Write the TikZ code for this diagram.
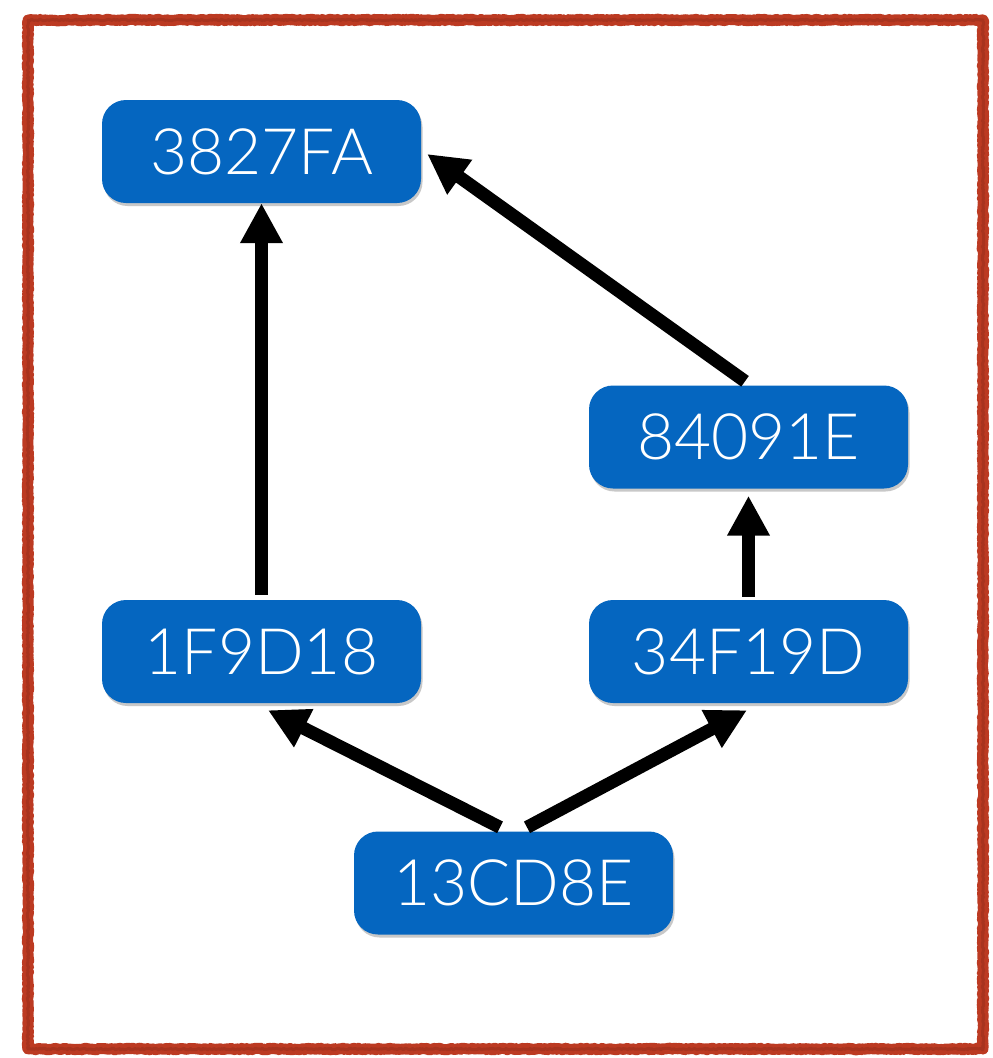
\documentclass[tikz,border=0pt]{standalone}
\usepackage{fontspec}
\setmainfont{Lato}[UprightFont=* Light]
\usetikzlibrary{arrows.meta,shadows,calc,decorations.pathmorphing}
\definecolor{nodeblue}{RGB}{5,102,192}
\definecolor{frame}{RGB}{188,58,34}
\tikzset{
  commit/.style={draw=none, fill=nodeblue, text=white, rounded corners=24pt,
    minimum width=319pt, minimum height=103pt, inner sep=0pt,
    font=\fontsize{64}{76}\selectfont,
    drop shadow={shadow xshift=1.5pt, shadow yshift=-3pt, opacity=0.3, fill=black!70}},
  link/.style={line width=13pt, -{Triangle[width=40pt,length=40pt]}}
}
\begin{document}
\begin{tikzpicture}[x=1pt,y=-1pt]
\useasboundingbox (0,0) rectangle (993,1058);
\fill[white] (0,0) rectangle (993,1058);
\draw[frame, line width=11pt, line join=round,
  decorate, decoration={random steps, segment length=1.5pt, amplitude=0.8pt}]
  (28,20) rectangle (983,1049);
\draw[frame!80!black, line width=3pt, opacity=0.5, line join=round,
  decorate, decoration={random steps, segment length=1.5pt, amplitude=0.8pt}]
  (28,20) rectangle (983,1049);

\node[commit] (a) at (261.5,151.5) {3827FA};
\node[commit] (b) at (748.5,437) {84091E};
\node[commit] (c) at (748.5,651.5) {34F19D};
\node[commit] (d) at (261.5,651.5) {1F9D18};
\node[commit] (e) at (513.5,883) {13CD8E};

\coordinate (bs) at ($(b.north)+(-3.5,-4)$);
\coordinate (at) at ($(a.east)+(6,2.5)$);
\coordinate (els) at ($(e.north)+(-13.5,-4)$);
\coordinate (ers) at ($(e.north)+(13.5,-4)$);
\coordinate (dt) at ($(d.south)+(6.5,7)$);
\coordinate (ct) at ($(c.south)+(-1.5,7)$);

\draw[link] ($(d.north)+(0,-5)$) -- (a.south);
\draw[link] ($(c.north)+(0,-3)$) -- ($(b.south)+(0,7)$);
\draw[link] (bs) -- (at);
\draw[link] (els) -- (dt);
\draw[link] (ers) -- (ct);
\end{tikzpicture}
\end{document}
